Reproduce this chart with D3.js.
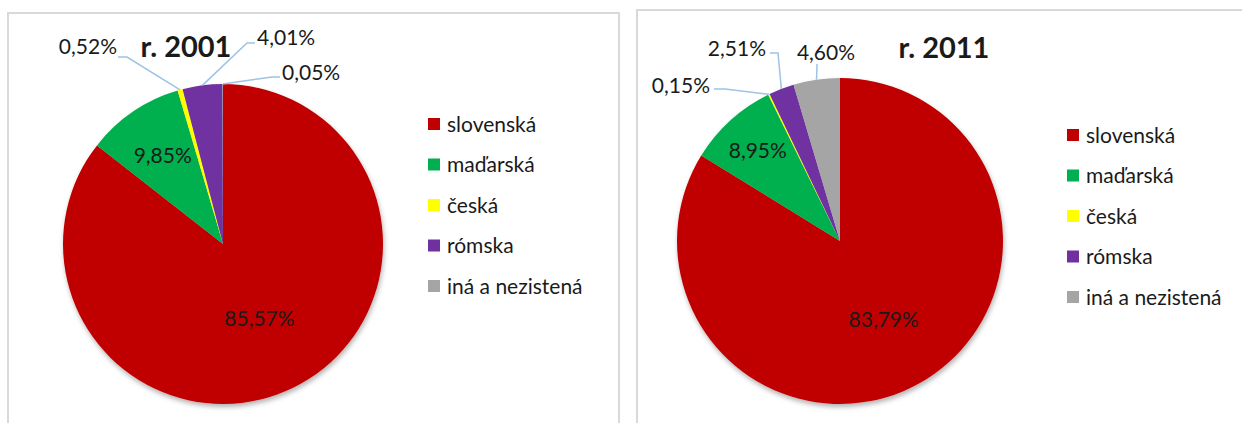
<!DOCTYPE html>
<html lang="sk">
<head>
<meta charset="UTF-8">
<title>Národnosť r. 2001 a r. 2011</title>
<script src="https://cdn.jsdelivr.net/npm/d3@7"></script>
<style>
  body { margin: 0; background: #fff; }
  text { font-family: Lato, "Open Sans", sans-serif; fill: #1a1a1a; }
</style>
</head>
<body>
<svg id="chart"></svg>
<script>
  // data
  var categories = ['slovenská', 'maďarská', 'česká', 'rómska', 'iná a nezistená'];
  var years = ['r. 2001', 'r. 2011'];
  var values2001 = [85.57, 9.85, 0.52, 4.01, 0.05];
  var values2011 = [83.79, 8.95, 0.15, 2.51, 4.60];
  var colors = ['#c00000', '#00b050', '#ffff00', '#7030a0', '#a5a5a5'];

  var width = 1242, height = 423;
  var fmt = function(v) { return v.toFixed(2).replace('.', ',') + '%'; };

  // layout of both panels (labels of the small slices sit outside)
  var panels = [
    { year: years[0], values: values2001,
      box: [8, 13, 611, 430], cx: 223, cy: 244, r: 160,
      title: [186, 47], legend: [428, 124, 40.5],
      inside: { 0: 0.52, 1: 0.67 },
      outside: {
        2: { x: 117, y: 46, anchor: 'end', path: [[118, 57], [127, 57]] },
        3: { x: 257, y: 37, anchor: 'start', path: [[255, 43], [247, 43]] },
        4: { x: 282, y: 72, anchor: 'start', path: [[280, 77], [272, 77]] }
      } },
    { year: years[1], values: values2011,
      box: [637, 10, 640, 430], cx: 840, cy: 241, r: 163,
      title: [944, 48], legend: [1067, 135, 40.5],
      inside: { 0: 0.55, 1: 0.75 },
      outside: {
        2: { x: 710, y: 85, anchor: 'end', path: [[714, 89], [725, 89]] },
        3: { x: 766, y: 48, anchor: 'end', path: [[770, 53], [778, 53]] },
        4: { x: 826, y: 52, anchor: 'middle', path: [[817, 64], [817, 66]] }
      } }
  ];

  var svg = d3.select('#chart')
    .attr('width', width)
    .attr('height', height);

  var defs = svg.append('defs');
  defs.append('filter')
    .attr('id', 'shadow')
    .attr('x', '-10%').attr('y', '-10%')
    .attr('width', '120%').attr('height', '120%')
    .append('feDropShadow')
    .attr('dx', 1).attr('dy', 3)
    .attr('stdDeviation', 2.5)
    .attr('flood-color', '#000')
    .attr('flood-opacity', 0.3);

  var pie = d3.pie().sort(null).value(function(d) { return d; });

  panels.forEach(function(p) {
    svg.append('rect')
      .attr('x', p.box[0]).attr('y', p.box[1])
      .attr('width', p.box[2]).attr('height', p.box[3])
      .attr('fill', '#fff')
      .attr('stroke', '#d9d9d9')
      .attr('stroke-width', 2);

    var arc = d3.arc().innerRadius(0).outerRadius(p.r);
    var arcs = pie(p.values);

    var g = svg.append('g')
      .attr('transform', 'translate(' + p.cx + ',' + p.cy + ')');

    g.append('g')
      .attr('filter', 'url(#shadow)')
      .selectAll('path')
      .data(arcs)
      .enter()
      .append('path')
      .attr('d', arc)
      .attr('fill', function(d, i) { return colors[i]; });

    // inside labels
    g.selectAll('text.inside')
      .data(arcs.filter(function(d) { return p.inside[d.index] != null; }))
      .enter()
      .append('text')
      .attr('class', 'inside')
      .attr('text-anchor', 'middle')
      .attr('dy', '0.36em')
      .attr('font-size', 21)
      .attr('transform', function(d) {
        var k = p.inside[d.index] * p.r;
        var c = d3.arc().innerRadius(k).outerRadius(k).centroid(d);
        return 'translate(' + c[0] + ',' + c[1] + ')';
      })
      .text(function(d) { return fmt(d.value); });

    // outside labels with leader lines
    arcs.forEach(function(d) {
      var o = p.outside[d.index];
      if (!o) return;
      var edge = d3.arc().innerRadius(p.r).outerRadius(p.r).centroid(d);
      var pts = o.path.concat([[p.cx + edge[0], p.cy + edge[1]]]);
      svg.append('path')
        .attr('d', d3.line()(pts))
        .attr('fill', 'none')
        .attr('stroke', '#9dc3e6')
        .attr('stroke-width', 1.5);
      svg.append('text')
        .attr('x', o.x).attr('y', o.y)
        .attr('dy', '0.36em')
        .attr('text-anchor', o.anchor)
        .attr('font-size', 21)
        .text(fmt(d.value));
    });

    svg.append('text')
      .attr('x', p.title[0]).attr('y', p.title[1])
      .attr('dy', '0.36em')
      .attr('text-anchor', 'middle')
      .attr('font-size', 29)
      .attr('font-weight', 'bold')
      .attr('fill', '#000')
      .text(p.year);

    var legend = svg.append('g')
      .attr('transform', 'translate(' + p.legend[0] + ',' + p.legend[1] + ')');
    var item = legend.selectAll('g')
      .data(categories)
      .enter()
      .append('g')
      .attr('transform', function(d, i) { return 'translate(0,' + (i * p.legend[2]) + ')'; });
    item.append('rect')
      .attr('x', 0).attr('y', -6)
      .attr('width', 12).attr('height', 12)
      .attr('fill', function(d, i) { return colors[i]; });
    item.append('text')
      .attr('x', 19)
      .attr('dy', '0.36em')
      .attr('font-size', 21)
      .text(function(d) { return d; });
  });
</script>
</body>
</html>
